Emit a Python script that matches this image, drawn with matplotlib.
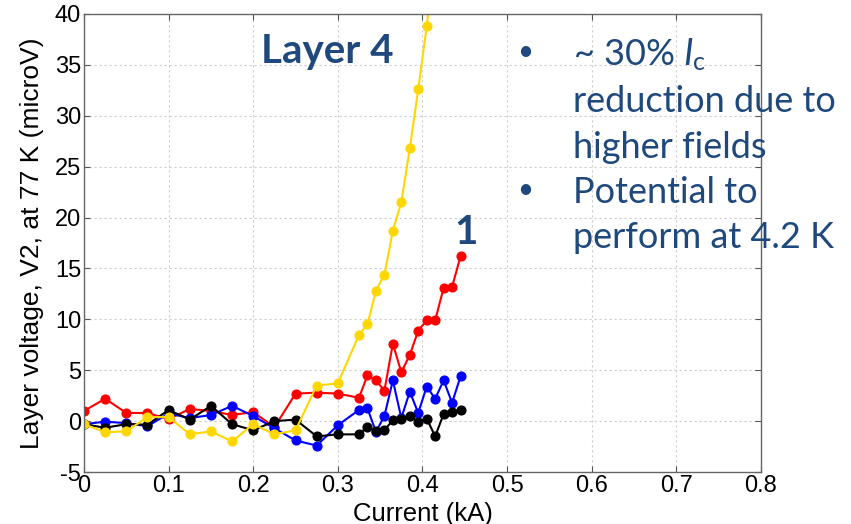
import matplotlib.pyplot as plt

plt.rcParams['font.family'] = 'Liberation Sans'
plt.rcParams['axes.unicode_minus'] = False
plt.rcParams['mathtext.fontset'] = 'custom'
plt.rcParams['mathtext.rm'] = 'Lato'
plt.rcParams['mathtext.it'] = 'Lato:italic'

# layer voltage vs. current, layer 4 (V2 at 77 K)
x_main = [0, 0.025, 0.05, 0.075, 0.1, 0.125, 0.15, 0.175, 0.2, 0.225,
          0.25, 0.275, 0.3, 0.325, 0.335, 0.345, 0.355, 0.365, 0.375,
          0.385, 0.395, 0.405, 0.415, 0.425, 0.435, 0.445]
v_red = [1.0, 2.2, 0.8, 0.8, 0.2, 1.2, 1.0, 0.6, 0.9, -0.6,
         2.7, 2.8, 2.7, 2.3, 4.5, 4.0, 3.0, 7.6, 4.8,
         6.5, 8.9, 9.9, 9.9, 13.1, 13.2, 16.2]
v_blue = [-0.3, -0.05, -0.2, -0.5, 0.75, 0.3, 0.6, 1.5, 0.5, -0.7,
          -1.9, -2.4, -0.4, 1.1, 1.25, -1.05, 0.5, 4.0, 0.3,
          2.9, 0.8, 3.4, 2.2, 4.0, 1.8, 4.4]
v_black = [-0.3, -0.65, -0.3, -0.35, 1.1, 0.15, 1.5, -0.3, -0.9, 0.0,
           0.15, -1.5, -1.3, -1.3, -0.55, -1.0, -0.9, 0.1, 0.2,
           0.5, -0.05, 0.25, -1.5, 0.7, 0.9, 1.1]

x_yel = [0, 0.025, 0.05, 0.075, 0.1, 0.125, 0.15, 0.175, 0.2, 0.225,
         0.25, 0.275, 0.3, 0.325, 0.335, 0.345, 0.355, 0.365, 0.375,
         0.385, 0.395, 0.405, 0.415]
v_yel = [-0.3, -1.1, -1.0, 0.4, 0.4, -1.3, -1.0, -2.0, -0.3, -1.3,
         -0.9, 3.5, 3.7, 8.5, 9.5, 12.8, 14.4, 18.7, 21.5,
         26.8, 32.6, 38.8, 46.0]

notes = ("~ 30% $\\mathit{I}_\\mathrm{c}$\nreduction due to\nhigher fields\n"
         "Potential to\nperform at 4.2 K")
navy = '#1f497d'

fig = plt.figure(figsize=(8.51, 5.24), dpi=100)
ax = fig.add_axes([0.0987, 0.0992, 0.7955, 0.8741])

kw = dict(marker='o', markersize=6.3, linewidth=1.5)
ax.plot(x_main, v_red, color='#ff0000', **kw)
ax.plot(x_main, v_blue, color='#0000ff', **kw)
ax.plot(x_main, v_black, color='black', **kw)
ax.plot(x_yel, v_yel, color='#ffd700', **kw)

ax.set_xlim(0, 0.8)
ax.set_ylim(-5, 40)
ax.set_xticks([0, 0.1, 0.2, 0.3, 0.4, 0.5, 0.6, 0.7, 0.8])
ax.set_xticklabels(['0', '0.1', '0.2', '0.3', '0.4', '0.5', '0.6', '0.7', '0.8'])
ax.set_yticks(range(-5, 41, 5))
ax.grid(True, linestyle=(0, (2, 2.5)), color='#cccccc', linewidth=0.8)
ax.tick_params(direction='in', top=True, right=True, labelsize=17,
               length=4, color='#555555', pad=2)
for s in ax.spines.values():
    s.set_color('#666666')
    s.set_linewidth(1.0)

ax.set_xlabel('Current (kA)', fontsize=18.5, labelpad=4)
ax.set_ylabel('Layer voltage, V2, at 77 K (microV)', fontsize=19, labelpad=8)

# slide annotations
fig.text(327 / 851, 1 - 52 / 524, 'Layer 4', fontsize=29, fontweight='bold',
         color=navy, family='Lato', ha='center', va='center')
fig.text(466 / 851, 1 - 232 / 524, '1', fontsize=29, fontweight='bold',
         color=navy, family='Lato', ha='center', va='center')
fig.text(573 / 851, 1 - 36 / 524, notes, fontsize=26, color=navy,
         family='Lato', ha='left', va='top', linespacing=1.46)
for yb in (52, 190):
    fig.text(525 / 851, 1 - yb / 524, '\u2022', fontsize=20, color=navy,
             family='Lato', ha='center', va='center')

fig.savefig('out.png', dpi=100)
